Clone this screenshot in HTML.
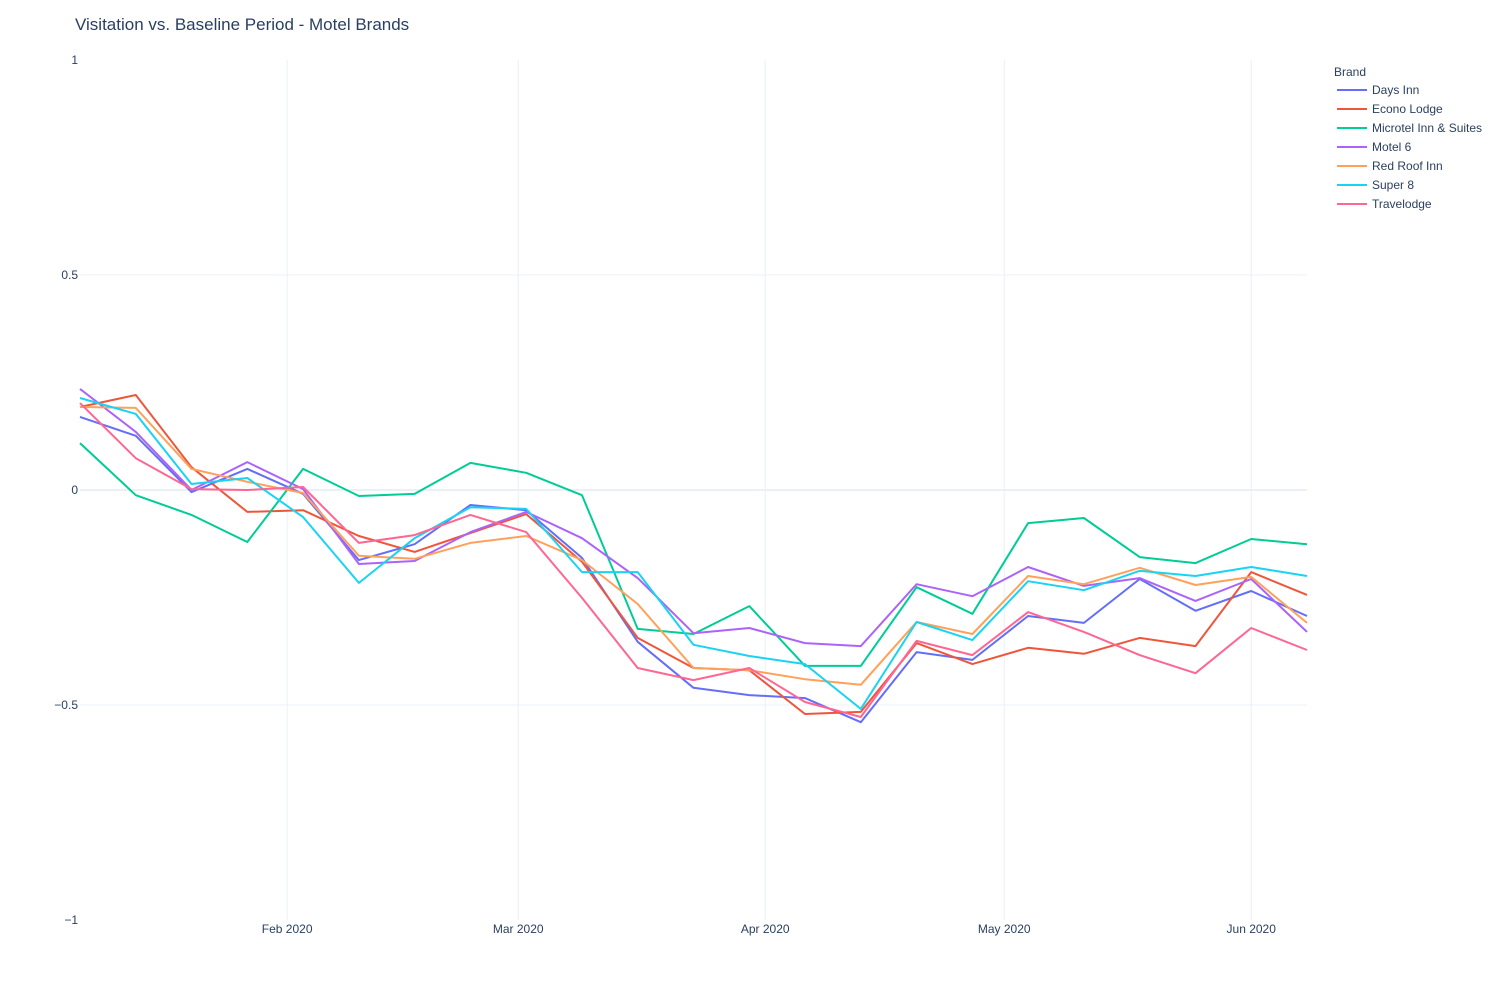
<!DOCTYPE html>
<html><head><meta charset="utf-8"><style>
body{margin:0;background:#fff;font-family:"Liberation Sans",Arial,sans-serif}
svg text{font-family:"Liberation Sans",Arial,sans-serif;fill:#2a3f5f}
</style></head><body>
<svg id="chart" width="1500" height="1000" xmlns="http://www.w3.org/2000/svg">
<rect width="1500" height="1000" fill="#fff"/>
<text x="75" y="30" font-size="17">Visitation vs. Baseline Period - Motel Brands</text>
<g id="grid"></g><g id="axes"></g><g id="series"></g><g id="legend"></g>
</svg>
<script>
const brands=["Days Inn","Econo Lodge","Microtel Inn & Suites","Motel 6","Red Roof Inn","Super 8","Travelodge"];
const colors=["#636efa","#EF553B","#00cc96","#ab63fa","#FFA15A","#19d3f3","#FF6692"];
const startDate="2020-01-06";
const weeks=23;
const daysInn=[0.170,0.126,-0.005,0.049,-0.009,-0.163,-0.126,-0.035,-0.047,-0.158,-0.353,-0.460,-0.477,-0.484,-0.540,-0.377,-0.395,-0.293,-0.309,-0.207,-0.281,-0.235,-0.293];
const econoLodge=[0.193,0.221,0.053,-0.051,-0.047,-0.107,-0.144,-0.100,-0.056,-0.167,-0.344,-0.414,-0.419,-0.521,-0.516,-0.356,-0.405,-0.367,-0.381,-0.344,-0.363,-0.191,-0.244];
const microtel=[0.109,-0.012,-0.058,-0.121,0.049,-0.014,-0.009,0.063,0.040,-0.012,-0.323,-0.335,-0.270,-0.409,-0.409,-0.226,-0.288,-0.077,-0.065,-0.156,-0.170,-0.114,-0.126];
const motel6=[0.235,0.135,0,0.065,0.002,-0.172,-0.165,-0.098,-0.051,-0.112,-0.205,-0.333,-0.321,-0.356,-0.363,-0.219,-0.247,-0.179,-0.223,-0.205,-0.258,-0.207,-0.330];
const redRoof=[0.193,0.191,0.049,0.019,-0.007,-0.153,-0.160,-0.123,-0.107,-0.163,-0.265,-0.414,-0.419,-0.440,-0.453,-0.307,-0.335,-0.200,-0.219,-0.181,-0.221,-0.202,-0.309];
const super8=[0.214,0.177,0.014,0.028,-0.063,-0.216,-0.112,-0.040,-0.044,-0.191,-0.191,-0.360,-0.386,-0.405,-0.509,-0.307,-0.349,-0.212,-0.233,-0.188,-0.200,-0.179,-0.200];
const travelodge=[0.202,0.074,0.002,0,0.007,-0.123,-0.105,-0.058,-0.098,-0.251,-0.414,-0.442,-0.414,-0.493,-0.528,-0.351,-0.384,-0.284,-0.330,-0.384,-0.426,-0.321,-0.372];
const yTicks=[1,0.5,0,-0.5,-1];
const yTickLabels=["1","0.5","0","\u22120.5","\u22121"];
const xTicks=["2020-02-01","2020-03-01","2020-04-01","2020-05-01","2020-06-01"];
const xTickLabels=["Feb 2020","Mar 2020","Apr 2020","May 2020","Jun 2020"];
const seriesList=[daysInn,econoLodge,microtel,motel6,redRoof,super8,travelodge];

const NS="http://www.w3.org/2000/svg";
const X0=80,X1=1307,Y0=60,Y1=920;
const t0=Date.parse(startDate);
const DAY=86400000;
const tEnd=t0+(weeks-1)*7*DAY;
function xs(t){return X0+(t-t0)/(tEnd-t0)*(X1-X0);}
function ys(v){return Y0+(1-v)/2*(Y1-Y0);}
function mk(tag,attrs,parent){const e=document.createElementNS(NS,tag);for(const k in attrs)e.setAttribute(k,attrs[k]);parent.appendChild(e);return e;}
const grid=document.getElementById('grid'),axes=document.getElementById('axes'),ser=document.getElementById('series'),leg=document.getElementById('legend');
yTicks.forEach((v,i)=>{
  if(v!==1&&v!==-1){const l=mk('line',{x1:X0,x2:X1,y1:ys(v),y2:ys(v),stroke:'#EBF0F8','stroke-width':v===0?2:1},grid);
  
  }
  const t=mk('text',{x:78,y:ys(v)+4,'text-anchor':'end','font-size':12},axes);t.textContent=yTickLabels[i];
  
  
});
xTicks.forEach((d,i)=>{
  const x=xs(Date.parse(d));
  const l=mk('line',{x1:x,x2:x,y1:Y0,y2:Y1,stroke:'#EBF0F8','stroke-width':1},grid);
  
  
  const t=mk('text',{x:x,y:933,'text-anchor':'middle','font-size':12},axes);t.textContent=xTickLabels[i];
  
  
});
seriesList.forEach((vals,si)=>{
  const pts=vals.map((v,i)=>xs(t0+i*7*DAY).toFixed(1)+','+ys(v).toFixed(1)).join(' ');
  const p=mk('polyline',{points:pts,fill:'none',stroke:colors[si],'stroke-width':2,'stroke-linejoin':'round'},ser);
  
  
});
const lt=mk('text',{x:1334,y:76,'font-size':12},leg);lt.textContent='Brand';


brands.forEach((b,i)=>{
  const y=90+i*19;
  const g=mk('g',{},leg);
  
  
  mk('line',{x1:1337,x2:1367,y1:y,y2:y,stroke:colors[i],'stroke-width':2},g);
  const t=mk('text',{x:1372,y:y+4,'font-size':12},g);t.textContent=b;
});
</script>
</body></html>
